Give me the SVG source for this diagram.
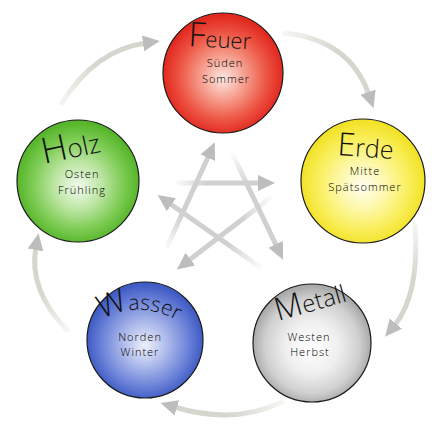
<svg xmlns="http://www.w3.org/2000/svg" width="438" height="438" viewBox="0 0 438 438">
<style>
.ball{stroke:#1a1a1a;stroke-width:1.2}
.title{font-family:"Open Sans","DejaVu Sans",sans-serif;fill:#111;font-weight:300}
.sub{font-family:"Open Sans","DejaVu Sans",sans-serif;font-size:11px;letter-spacing:1px;font-weight:300;fill:#000;text-anchor:middle}
.outer{fill:none;stroke-width:5;stroke-linecap:round}
.inner{fill:none;stroke-width:5;stroke-linecap:round}
</style>
<defs>
<marker id="ah" markerUnits="userSpaceOnUse" markerWidth="18" markerHeight="18" viewBox="0 0 18 18" refX="3" refY="9" orient="auto">
<path d="M0,1 L17,9 L0,17 z" fill="#bdbdbd"/>
</marker>
<radialGradient id="gF" cx="50%" cy="52%" r="50%" fx="50%" fy="55%">
<stop offset="0" stop-color="#fbe8e2"/><stop offset="0.35" stop-color="#f6a292"/><stop offset="0.7" stop-color="#ee5a48"/><stop offset="1" stop-color="#e2281f"/>
</radialGradient>
<radialGradient id="gE" cx="50%" cy="52%" r="50%" fx="50%" fy="55%">
<stop offset="0" stop-color="#fffef2"/><stop offset="0.4" stop-color="#fdf7a6"/><stop offset="0.75" stop-color="#f9ee58"/><stop offset="1" stop-color="#f2e227"/>
</radialGradient>
<radialGradient id="gH" cx="50%" cy="52%" r="50%" fx="50%" fy="55%">
<stop offset="0" stop-color="#f2fbee"/><stop offset="0.4" stop-color="#bbe5a2"/><stop offset="0.75" stop-color="#7ccb52"/><stop offset="1" stop-color="#56b52a"/>
</radialGradient>
<radialGradient id="gW" cx="50%" cy="52%" r="50%" fx="50%" fy="55%">
<stop offset="0" stop-color="#eef0fc"/><stop offset="0.4" stop-color="#aab7ea"/><stop offset="0.75" stop-color="#6b82d8"/><stop offset="1" stop-color="#3f5bc4"/>
</radialGradient>
<radialGradient id="gM" cx="50%" cy="52%" r="50%" fx="50%" fy="55%">
<stop offset="0" stop-color="#ffffff"/><stop offset="0.45" stop-color="#efefef"/><stop offset="0.8" stop-color="#d0d0d0"/><stop offset="1" stop-color="#aaaaaa"/>
</radialGradient>
<linearGradient id="o1" gradientUnits="userSpaceOnUse" x1="62" y1="103" x2="146" y2="43"><stop offset="0" stop-color="#d6d6ce" stop-opacity="0.25"/><stop offset="0.5" stop-color="#d6d6ce"/></linearGradient>
<linearGradient id="o2" gradientUnits="userSpaceOnUse" x1="285" y1="33" x2="369" y2="95"><stop offset="0" stop-color="#d6d6ce" stop-opacity="0.25"/><stop offset="0.5" stop-color="#d6d6ce"/></linearGradient>
<linearGradient id="o3" gradientUnits="userSpaceOnUse" x1="415" y1="225" x2="394" y2="326"><stop offset="0" stop-color="#d6d6ce" stop-opacity="0.25"/><stop offset="0.5" stop-color="#d6d6ce"/></linearGradient>
<linearGradient id="o4" gradientUnits="userSpaceOnUse" x1="282" y1="402" x2="174" y2="407"><stop offset="0" stop-color="#d6d6ce" stop-opacity="0.25"/><stop offset="0.5" stop-color="#d6d6ce"/></linearGradient>
<linearGradient id="o5" gradientUnits="userSpaceOnUse" x1="67" y1="330" x2="36" y2="247"><stop offset="0" stop-color="#d6d6ce" stop-opacity="0.25"/><stop offset="0.5" stop-color="#d6d6ce"/></linearGradient>
<linearGradient id="i1" gradientUnits="userSpaceOnUse" x1="167" y1="247" x2="209" y2="155"><stop offset="0" stop-color="#d0d0d0" stop-opacity="0.1"/><stop offset="0.35" stop-color="#d0d0d0"/></linearGradient>
<linearGradient id="i2" gradientUnits="userSpaceOnUse" x1="177" y1="183" x2="261" y2="183"><stop offset="0" stop-color="#d0d0d0" stop-opacity="0.1"/><stop offset="0.35" stop-color="#d0d0d0"/></linearGradient>
<linearGradient id="i3" gradientUnits="userSpaceOnUse" x1="233" y1="155" x2="277" y2="247"><stop offset="0" stop-color="#d0d0d0" stop-opacity="0.1"/><stop offset="0.35" stop-color="#d0d0d0"/></linearGradient>
<linearGradient id="i4" gradientUnits="userSpaceOnUse" x1="270" y1="198" x2="188" y2="261"><stop offset="0" stop-color="#d0d0d0" stop-opacity="0.1"/><stop offset="0.35" stop-color="#d0d0d0"/></linearGradient>
<linearGradient id="i5" gradientUnits="userSpaceOnUse" x1="260" y1="267" x2="169" y2="203"><stop offset="0" stop-color="#d0d0d0" stop-opacity="0.1"/><stop offset="0.35" stop-color="#d0d0d0"/></linearGradient>
<path id="wpath" d="M102,320 Q141,298 181,323"/>
</defs>
<rect width="438" height="438" fill="#ffffff"/>
<g id="connectors">
<path class="outer" stroke="url(#o1)" d="M62,103 Q95,50 146,43" marker-end="url(#ah)"/>
<path class="outer" stroke="url(#o2)" d="M285,33 Q350,40 369,95" marker-end="url(#ah)"/>
<path class="outer" stroke="url(#o3)" d="M415,225 Q420,295 394,326" marker-end="url(#ah)"/>
<path class="outer" stroke="url(#o4)" d="M282,402 Q235,425 174,407" marker-end="url(#ah)"/>
<path class="outer" stroke="url(#o5)" d="M67,330 Q28,290 36,247" marker-end="url(#ah)"/>
<path class="inner" stroke="url(#i1)" d="M167,247 L209,155" marker-end="url(#ah)"/>
<path class="inner" stroke="url(#i2)" d="M177,183 L261,183" marker-end="url(#ah)"/>
<path class="inner" stroke="url(#i3)" d="M233,155 L277,247" marker-end="url(#ah)"/>
<path class="inner" stroke="url(#i4)" d="M270,198 L188,261" marker-end="url(#ah)"/>
<path class="inner" stroke="url(#i5)" d="M260,267 L169,203" marker-end="url(#ah)"/>
</g>
<g id="feuer">
<circle class="ball" cx="223" cy="73" r="60" fill="url(#gF)"/>
<text class="title" transform="translate(188,46) rotate(3)"><tspan font-size="34">F</tspan><tspan font-size="22">euer</tspan></text>
<text class="sub" x="225" y="67">Süden</text>
<text class="sub" x="226" y="83">Sommer</text>
</g>
<g id="erde">
<circle class="ball" cx="363" cy="181" r="62" fill="url(#gE)"/>
<text class="title" transform="translate(337,155) rotate(4)"><tspan font-size="32">E</tspan><tspan font-size="25">rde</tspan></text>
<text class="sub" x="365" y="175">Mitte</text>
<text class="sub" x="365" y="191">Spätsommer</text>
</g>
<g id="holz">
<circle class="ball" cx="78" cy="181" r="61" fill="url(#gH)"/>
<text class="title" transform="translate(44,164) rotate(-12)"><tspan font-size="36">H</tspan><tspan font-size="26">olz</tspan></text>
<text class="sub" x="82" y="178">Osten</text>
<text class="sub" x="82" y="194">Frühling</text>
</g>
<g id="wasser">
<circle class="ball" cx="145" cy="340" r="58" fill="url(#gW)"/>
<text class="title"><textPath href="#wpath"><tspan font-size="32">W</tspan><tspan font-size="21">asser</tspan></textPath></text>
<text class="sub" x="140" y="341">Norden</text>
<text class="sub" x="140" y="356">Winter</text>
</g>
<g id="metall">
<circle class="ball" cx="312" cy="343" r="59" fill="url(#gM)"/>
<text class="title" transform="translate(278,321) rotate(-16)"><tspan font-size="32">M</tspan><tspan font-size="24">etall</tspan></text>
<text class="sub" x="309" y="341">Westen</text>
<text class="sub" x="310" y="356">Herbst</text>
</g>
</svg>
